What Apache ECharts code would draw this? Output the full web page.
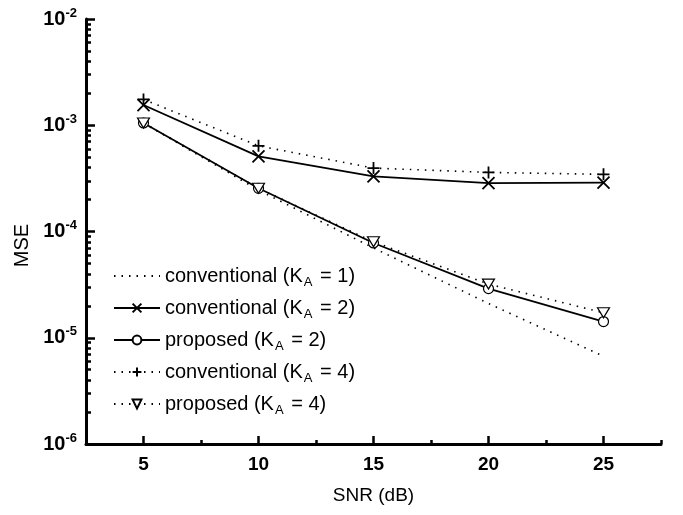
<!DOCTYPE html>
<html>
<head>
<meta charset="utf-8">
<script src="https://cdn.jsdelivr.net/npm/echarts@6/dist/echarts.min.js"></script>
<style>
  html, body { margin: 0; padding: 0; background: #fff; }
  #chart { width: 683px; height: 515px; }
</style>
</head>
<body>
<div id="chart"></div>
<script>
  // SNR (dB) on x
  const snr = [5, 10, 15, 20, 25];
  // MSE values
  const convK1 = [1.05e-3, 2.45e-4, 7.0e-5, 2.1e-5, 6.7e-6];
  const convK2 = [1.55e-3, 5.1e-4, 3.3e-4, 2.85e-4, 2.88e-4];
  const propK2 = [1.05e-3, 2.55e-4, 7.8e-5, 2.9e-5, 1.42e-5];
  const convK4 = [1.75e-3, 6.4e-4, 3.95e-4, 3.6e-4, 3.45e-4];
  const propK4 = [1.05e-3, 2.55e-4, 8.0e-5, 3.2e-5, 1.72e-5];

  const xMajor = [5, 10, 15, 20, 25];
  const xMinor = [7.5, 12.5, 17.5, 22.5, 27.5];
  const yMajor = [1e-6, 1e-5, 1e-4, 1e-3, 1e-2];
  const yMinor = [];
  for (let d = -6; d < -2; d++) {
    for (let m = 2; m <= 9; m++) yMinor.push(m * Math.pow(10, d));
  }

  const crossPath = 'path://M0,0L10,10M10,0L0,10';
  const plusPath = 'path://M5,0L5,10M0,5L10,5';
  const triPath = 'path://M0,0L10,0L5,8.66Z';

  function pts(ys) {
    return snr.map((x, i) => [x, ys[i]]);
  }

  const dotted = [1.5, 6];
  const font = 'Liberation Sans, Arial, sans-serif';

  let myChart = echarts.init(document.getElementById('chart'));
  myChart.setOption({
    animation: false,
    textStyle: { fontFamily: font, color: '#000' },
    grid: { left: 86, right: 22, top: 19, bottom: 71 },
    legend: {
      orient: 'vertical',
      left: 108,
      top: 261,
      itemWidth: 46,
      itemHeight: 11,
      itemGap: 9,
      data: [
        { name: 'conventional (K_A = 1)', itemStyle: { opacity: 0 } },
        'conventional (K_A = 2)', 'proposed (K_A = 2)',
        'conventional (K_A = 4)', 'proposed (K_A = 4)'
      ],
      formatter: function (name) {
        const p = name.split('K_A');
        return p[0] + 'K{s|A}' + p[1];
      },
      textStyle: {
        fontFamily: font,
        fontSize: 20,
        color: '#000',
        rich: {
          s: { fontSize: 13, padding: [13, 2, 0, 1], color: '#000', fontFamily: font }
        }
      }
    },
    xAxis: [
      {
        type: 'value', min: 2.5, max: 27.5, position: 'bottom',
        name: 'SNR (dB)', nameLocation: 'middle', nameGap: 42,
        nameTextStyle: { fontSize: 19, color: '#000', fontFamily: font },
        axisLine: { lineStyle: { color: '#000', width: 3 } },
        axisTick: { inside: true, length: 8, customValues: xMajor, lineStyle: { color: '#000', width: 2.5 } },
        axisLabel: { customValues: xMajor, fontSize: 19, fontWeight: 'bold', color: '#000', margin: 11, fontFamily: font },
        splitLine: { show: false }
      },
      {
        type: 'value', min: 2.5, max: 27.5, position: 'bottom',
        axisLine: { show: false },
        axisTick: { inside: true, length: 4, customValues: xMinor, lineStyle: { color: '#000', width: 2.5 } },
        axisLabel: { show: false },
        splitLine: { show: false }
      }
    ],
    yAxis: [
      {
        type: 'log', logBase: 10, min: 1e-6, max: 1e-2, position: 'left',
        name: 'MSE', nameLocation: 'middle', nameGap: 46, nameRotate: 90,
        nameTextStyle: { fontSize: 20, color: '#000', fontFamily: font, padding: [0, 0, 0, -28] },
        axisLine: { lineStyle: { color: '#000', width: 3 } },
        axisTick: { inside: true, length: 9, customValues: yMajor, lineStyle: { color: '#000', width: 2.5 } },
        axisLabel: {
          customValues: yMajor, margin: 9, color: '#000',
          formatter: function (v) {
            return '{b|10}{e|' + Math.round(Math.log10(v)) + '}';
          },
          rich: {
            b: { fontSize: 20, fontWeight: 'bold', color: '#000', fontFamily: font },
            e: { fontSize: 13, fontWeight: 'bold', color: '#000', fontFamily: font, padding: [0, 0, 12, 0] }
          }
        },
        splitLine: { show: false }
      },
      {
        type: 'log', logBase: 10, min: 1e-6, max: 1e-2, position: 'left',
        axisLine: { show: false },
        axisTick: { inside: true, length: 5, customValues: yMinor, lineStyle: { color: '#000', width: 2.5 } },
        axisLabel: { show: false },
        splitLine: { show: false }
      }
    ],
    series: [
      {
        name: 'conventional (K_A = 1)', type: 'line', data: pts(convK1),
        showSymbol: false, symbol: 'none',
        lineStyle: { color: '#000', width: 1.6, type: dotted },
        itemStyle: { color: '#000' }
      },
      {
        name: 'conventional (K_A = 2)', type: 'line', data: pts(convK2),
        symbol: crossPath, symbolSize: 12,
        lineStyle: { color: '#000', width: 1.8 },
        itemStyle: { color: '#fff', borderColor: '#000', borderWidth: 1.8 }
      },
      {
        name: 'proposed (K_A = 2)', type: 'line', data: pts(propK2),
        symbol: 'circle', symbolSize: 10,
        lineStyle: { color: '#000', width: 1.8 },
        itemStyle: { color: '#fff', borderColor: '#000', borderWidth: 1.2 }
      },
      {
        name: 'conventional (K_A = 4)', type: 'line', data: pts(convK4),
        symbol: plusPath, symbolSize: 12,
        lineStyle: { color: '#000', width: 1.6, type: dotted },
        itemStyle: { color: '#fff', borderColor: '#000', borderWidth: 1.8 }
      },
      {
        name: 'proposed (K_A = 4)', type: 'line', data: pts(propK4),
        symbol: triPath, symbolSize: [12, 10],
        lineStyle: { color: '#000', width: 1.6, type: dotted },
        itemStyle: { color: '#fff', borderColor: '#000', borderWidth: 1.2 }
      }
    ]
  });
</script>
</body>
</html>
